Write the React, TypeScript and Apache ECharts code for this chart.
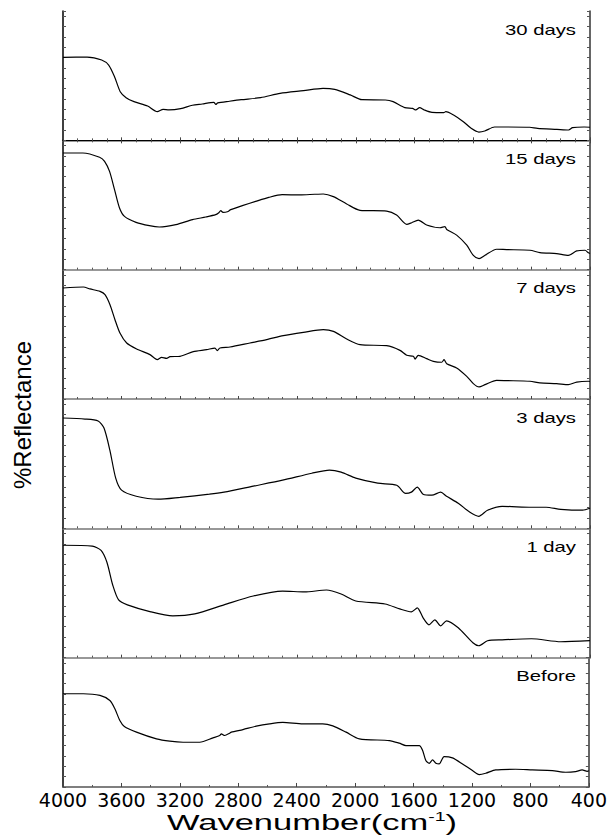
import React, { useEffect, useRef } from "react";
import * as echarts from "echarts";

// Panel labels (top to bottom)
const panelLabels = ["30 days", "15 days", "7 days", "3 days", "1 day", "Before"];

// X tick labels
const xTicks = [4000, 3600, 3200, 2800, 2400, 2000, 1600, 1200, 800, 400];

// Each spectrum: [wavenumber, relative reflectance within its panel (0-100)]
const days30: [number, number][] = [
  [4000, 64.2], [3835, 64.4], [3736, 62.1], [3688, 58.2], [3648, 49.2], [3609, 37.6],
  [3569, 33.0], [3515, 29.9], [3422, 26.5], [3356, 22.2], [3316, 24.0], [3276, 23.5],
  [3196, 24.5], [3116, 27.1], [3049, 28.1], [2970, 29.4], [2956, 27.8], [2943, 28.9],
  [2863, 30.2], [2783, 31.4], [2650, 33.0], [2517, 36.3], [2357, 38.4], [2224, 40.2],
  [2144, 39.4], [2038, 35.1], [1958, 31.4], [1798, 31.2], [1745, 29.9], [1665, 25.3],
  [1612, 24.7], [1590, 23.5], [1564, 25.3], [1532, 23.5], [1479, 21.6], [1399, 21.4],
  [1385, 22.2], [1332, 19.6], [1265, 14.4], [1212, 9.3], [1159, 6.4], [1119, 7.2],
  [1052, 10.3], [972, 10.3], [812, 10.1], [759, 9.3], [626, 8.5], [546, 8.0],
  [519, 9.8], [440, 10.3], [400, 10.1],
];

const days15: [number, number][] = [
  [4000, 90.2], [3864, 90.2], [3750, 86.9], [3716, 83.8], [3682, 76.0], [3648, 61.9],
  [3614, 47.7], [3580, 41.2], [3501, 36.6], [3410, 34.0], [3342, 33.0], [3229, 34.8],
  [3115, 38.7], [3025, 40.7], [2957, 42.5], [2938, 43.8], [2922, 45.6], [2907, 44.3],
  [2877, 44.8], [2854, 46.4], [2775, 49.5], [2684, 52.8], [2594, 55.9], [2503, 58.0],
  [2381, 57.8], [2280, 58.3], [2222, 58.5], [2153, 56.5], [2062, 50.8], [1971, 45.9],
  [1789, 45.3], [1721, 42.2], [1652, 35.0], [1618, 36.3], [1573, 38.3], [1516, 34.5],
  [1425, 32.4], [1391, 33.2], [1379, 31.1], [1311, 26.7], [1242, 18.9], [1197, 11.1],
  [1158, 8.5], [1117, 11.1], [1038, 15.8], [969, 15.5], [810, 15.0], [742, 13.2],
  [628, 12.4], [548, 11.1], [491, 14.5], [434, 15.0], [411, 13.0], [400, 12.5],
];

const days7: [number, number][] = [
  [4000, 85.8], [3861, 86.6], [3816, 85.1], [3747, 83.2], [3713, 80.7], [3679, 72.9],
  [3645, 61.3], [3611, 51.0], [3565, 43.3], [3497, 38.7], [3406, 34.3], [3356, 30.4],
  [3326, 32.2], [3292, 31.4], [3269, 32.7], [3201, 33.0], [3110, 36.6], [3019, 38.1],
  [2962, 39.4], [2946, 37.4], [2928, 39.4], [2859, 40.2], [2723, 43.3], [2609, 45.9],
  [2495, 49.0], [2358, 51.5], [2222, 53.6], [2153, 52.3], [2062, 46.4], [1971, 42.0],
  [1789, 41.2], [1698, 37.6], [1652, 33.8], [1607, 33.0], [1595, 30.9], [1573, 33.8],
  [1516, 31.2], [1470, 29.1], [1413, 28.4], [1397, 30.4], [1379, 27.3], [1311, 24.0],
  [1242, 17.5], [1197, 11.9], [1158, 9.3], [1117, 11.1], [1038, 14.4], [969, 14.2],
  [810, 13.7], [742, 12.4], [628, 11.9], [548, 11.1], [491, 13.1], [411, 13.7], [400, 13.5],
];

const days3: [number, number][] = [
  [4000, 85.3], [3850, 84.5], [3760, 83.0], [3720, 77.5], [3680, 60.5], [3640, 38.8],
  [3600, 29.5], [3500, 24.8], [3350, 22.5], [3200, 24.0], [3000, 26.4], [2900, 28.0],
  [2700, 32.6], [2500, 37.2], [2300, 42.6], [2180, 45.0], [2100, 43.4], [2000, 38.8],
  [1850, 34.9], [1720, 33.3], [1660, 27.0], [1620, 28.0], [1580, 31.8], [1540, 26.4],
  [1480, 25.6], [1420, 28.0], [1380, 24.8], [1300, 19.4], [1220, 12.4], [1160, 9.3],
  [1100, 14.0], [1000, 17.0], [800, 16.3], [700, 16.3], [600, 14.7], [450, 14.0], [400, 15.5],
];

const day1: [number, number][] = [
  [4000, 86.9], [3800, 86.2], [3740, 83.0], [3700, 73.8], [3660, 56.0], [3620, 44.6],
  [3560, 40.8], [3400, 35.4], [3250, 32.3], [3100, 33.8], [2900, 40.8], [2700, 47.7],
  [2500, 51.5], [2350, 50.8], [2200, 52.3], [2100, 49.2], [2000, 43.8], [1800, 41.5],
  [1700, 37.7], [1620, 35.4], [1580, 38.5], [1540, 30.8], [1500, 25.4], [1460, 29.2],
  [1420, 24.6], [1380, 28.5], [1300, 23.1], [1200, 11.5], [1160, 9.2], [1100, 13.1],
  [1000, 13.8], [800, 14.6], [600, 12.3], [400, 13.1],
];

const before: [number, number][] = [
  [4000, 72.1], [3861, 72.1], [3747, 70.8], [3679, 66.9], [3645, 60.5], [3611, 51.4],
  [3580, 46.8], [3497, 42.4], [3360, 37.2], [3269, 35.4], [3178, 34.6], [3064, 34.6],
  [2973, 38.0], [2927, 39.8], [2916, 41.1], [2893, 39.8], [2859, 41.6], [2848, 42.4],
  [2768, 44.4], [2677, 47.0], [2586, 48.8], [2495, 49.9], [2358, 48.8], [2222, 48.8],
  [2153, 47.2], [2062, 42.4], [1971, 37.2], [1766, 35.9], [1698, 33.9], [1652, 32.0],
  [1561, 32.0], [1538, 28.2], [1516, 20.4], [1493, 18.3], [1470, 20.9], [1447, 18.3],
  [1425, 17.8], [1391, 23.5], [1334, 22.5], [1265, 17.8], [1197, 12.7], [1151, 9.6],
  [1106, 10.6], [1038, 13.2], [901, 13.7], [787, 13.2], [650, 12.7], [559, 11.4],
  [491, 11.9], [446, 13.2], [411, 12.1], [400, 12.5],
];

const spectra = [days30, days15, days7, days3, day1, before];

export default function App() {
  const ref = useRef<HTMLDivElement>(null);
  useEffect(() => {
    if (!ref.current) return;
    const chart = echarts.init(ref.current, undefined, { renderer: "svg" });
    const left = 63;
    const right = 20;
    const top0 = 11;
    const panelH = 129.33;
    const n = spectra.length;
    const font = "'Liberation Sans', Arial, sans-serif";

    const grids: any[] = [];
    const xAxes: any[] = [];
    const yAxes: any[] = [];
    const series: any[] = [];
    const graphics: any[] = [];

    for (let i = 0; i < n; i++) {
      const top = top0 + i * panelH;
      grids.push({ left, right, top, height: panelH });
      const isLast = i === n - 1;
      xAxes.push({
        type: "value",
        gridIndex: i,
        min: 400,
        max: 4000,
        interval: 400,
        inverse: true,
        position: "bottom",
        axisLine: { show: true, lineStyle: { color: isLast ? "#555" : "#777", width: 1.5 } },
        axisTick: { show: true, inside: true, length: isLast ? 4 : 3, lineStyle: { color: "#444" } },
        minorTick: { show: true, splitNumber: isLast ? 2 : 4, length: 2, lineStyle: { color: "#555" } },
        splitLine: { show: false },
        axisLabel: isLast
          ? {
              show: true,
              margin: 4,
              fontSize: 19,
              color: "#000",
              fontFamily: "'DejaVu Sans', sans-serif",
              formatter: (v: number) => (xTicks.indexOf(v) >= 0 ? String(v) : ""),
            }
          : { show: false },
      });
      if (i === 0) {
        xAxes.push({
          type: "value",
          gridIndex: 0,
          min: 400,
          max: 4000,
          interval: 400,
          inverse: true,
          position: "top",
          axisLine: { show: true, lineStyle: { color: "#000", width: 1.2 } },
          axisTick: { show: true, inside: true, length: 3, lineStyle: { color: "#444" } },
          minorTick: { show: true, splitNumber: 4, length: 2, lineStyle: { color: "#555" } },
          splitLine: { show: false },
          axisLabel: { show: false },
        });
      }
      yAxes.push({
        type: "value",
        gridIndex: i,
        min: 0,
        max: 100,
        interval: 8,
        position: "left",
        axisLine: { show: true, lineStyle: { color: "#000", width: 1.5 } },
        axisTick: { show: true, inside: true, length: 3, lineStyle: { color: "#555" } },
        splitLine: { show: false },
        axisLabel: { show: false },
      });
      yAxes.push({
        type: "value",
        gridIndex: i,
        min: 0,
        max: 100,
        interval: 8,
        position: "right",
        axisLine: { show: true, lineStyle: { color: "#333", width: 1.5 } },
        axisTick: { show: true, inside: true, length: 3, lineStyle: { color: "#555" } },
        splitLine: { show: false },
        axisLabel: { show: false },
      });
      series.push({
        type: "line",
        xAxisIndex: i === 0 ? 0 : i + 1,
        yAxisIndex: i * 2,
        data: spectra[i],
        showSymbol: false,
        smooth: 0.25,
        lineStyle: { color: "#000", width: 1.2 },
        silent: true,
      });
      graphics.push({
        type: "text",
        x: 576,
        y: top + 19,
        scaleX: 1.45,
        style: {
          text: panelLabels[i],
          fill: "#000",
          font: `14px ${font}`,
          textAlign: "right",
          textVerticalAlign: "middle",
        },
      });
    }

    graphics.push({
      type: "text",
      x: 22,
      y: 415,
      rotation: Math.PI / 2,
      style: {
        text: "%Reflectance",
        fill: "#000",
        font: `24px ${font}`,
        textAlign: "center",
        textVerticalAlign: "middle",
      },
    });
    graphics.push({
      type: "text",
      x: 312,
      y: 822,
      scaleX: 1.5,
      style: {
        text: "Wavenumber(cm{sup|-1})",
        fill: "#000",
        font: `23px ${font}`,
        textAlign: "center",
        textVerticalAlign: "middle",
        rich: {
          sup: { fontSize: 13, fontFamily: font, verticalAlign: "top", lineHeight: 14, padding: [0, 0, 12, 0] },
        },
      },
    });

    chart.setOption({
      animation: false,
      backgroundColor: "#fff",
      grid: grids,
      xAxis: xAxes,
      yAxis: yAxes,
      series,
      graphic: graphics,
    });
    return () => chart.dispose();
  }, []);
  return (
    <div
      ref={ref}
      style={{ position: "absolute", left: 0, top: 0, width: 610, height: 838 }}
    />
  );
}
